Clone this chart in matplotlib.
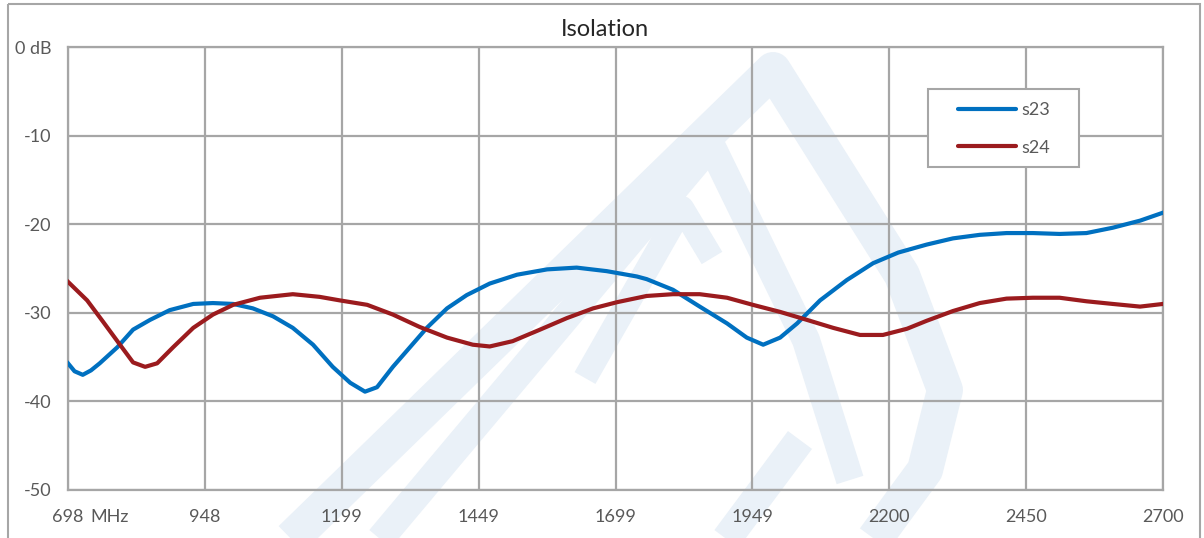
import matplotlib
matplotlib.use('Agg')
import matplotlib.pyplot as plt
from matplotlib.transforms import Affine2D
from matplotlib.lines import Line2D
from matplotlib.patches import Rectangle

# s23 (MHz, dB)
f23 = [698, 710, 725, 740, 756, 788, 817, 848, 884, 927, 963, 1000, 1036, 1073, 1109,
       1146, 1182, 1214, 1241, 1263, 1292, 1323, 1354, 1391, 1427, 1469, 1519, 1574,
       1628, 1683, 1738, 1756, 1804, 1853, 1903, 1939, 1969, 2000, 2031, 2073, 2122,
       2170, 2216, 2268, 2316, 2365, 2414, 2462, 2511, 2560, 2608, 2658, 2700]
s23 = [-35.7, -36.6, -37.0, -36.5, -35.7, -33.9, -31.9, -30.8, -29.7, -29.0, -28.9,
       -29.0, -29.5, -30.4, -31.7, -33.6, -36.1, -37.9, -38.9, -38.4, -36.1, -33.9,
       -31.7, -29.5, -28.0, -26.7, -25.7, -25.1, -24.9, -25.3, -25.9, -26.2, -27.4,
       -29.3, -31.2, -32.8, -33.6, -32.8, -31.2, -28.6, -26.3, -24.4, -23.2, -22.3,
       -21.6, -21.2, -21.0, -21.0, -21.1, -21.0, -20.4, -19.6, -18.7]

# s24
f24 = [698, 733, 762, 793, 817, 839, 861, 890, 927, 963, 1000, 1049, 1109, 1158, 1195,
       1245, 1292, 1341, 1391, 1438, 1469, 1511, 1561, 1610, 1658, 1702, 1756, 1804,
       1853, 1903, 1950, 2000, 2049, 2097, 2146, 2188, 2232, 2268, 2316, 2365, 2414,
       2462, 2511, 2560, 2608, 2658, 2700]
s24 = [-26.5, -28.6, -31.0, -33.6, -35.6, -36.1, -35.7, -33.9, -31.7, -30.2, -29.1,
       -28.3, -27.9, -28.2, -28.6, -29.1, -30.2, -31.6, -32.8, -33.6, -33.8, -33.2,
       -31.9, -30.6, -29.5, -28.8, -28.1, -27.9, -27.9, -28.3, -29.1, -29.9, -30.8,
       -31.7, -32.5, -32.5, -31.8, -30.9, -29.8, -28.9, -28.4, -28.3, -28.3, -28.7,
       -29.0, -29.3, -29.0]

xticks = [698, 948.25, 1198.5, 1448.75, 1699, 1949.25, 2199.5, 2449.75, 2700]
xlabels = ['698', '948', '1199', '1449', '1699', '1949', '2200', '2450', '2700']
yticks = [0, -10, -20, -30, -40, -50]
ylabels = ['0 dB', '-10', '-20', '-30', '-40', '-50']

# watermark strokes, image pixels (x, y from top), width px
wm_strokes = [
    ([(285, 545), (773, 70), (902, 275), (945, 390), (925, 470), (870, 545)], 36),
    ([(375, 545), (711, 145), (806, 340), (850, 480)], 28),
    ([(585, 378), (682, 208), (712, 258)], 24),
    ([(800, 440), (722, 545)], 30),
]

W, H = 1204, 538
grey = '#A6A6A6'
txt = '#595959'
plt.rcParams['font.family'] = ['Lato', 'DejaVu Sans']

fig = plt.figure(figsize=(W / 100, H / 100), dpi=100)
fig.patch.set_facecolor('white')
ax = fig.add_axes([68 / W, 1 - 490 / H, (1163 - 68) / W, (490 - 47) / H])
ax.set_facecolor('none')

pix = Affine2D().scale(1, -1).translate(0, H)
for pts, lw in wm_strokes:
    xs = [p[0] for p in pts]
    ys = [p[1] for p in pts]
    fig.add_artist(Line2D(xs, ys, transform=pix, color='#EAF1F8', lw=lw * 0.72,
                          solid_capstyle='butt', solid_joinstyle='round', zorder=-5))

fig.add_artist(Rectangle((8, 4), 1192, 600, transform=pix, fill=False,
                         edgecolor=grey, lw=1.5, zorder=-4))

ax.plot(f23, s23, color='#0070C0', lw=3, label='s23', solid_joinstyle='round', zorder=3)
ax.plot(f24, s24, color='#9B1B1E', lw=3, label='s24', solid_joinstyle='round', zorder=3)

ax.set_xlim(698, 2700)
ax.set_ylim(-50, 0)
ax.set_xticks(xticks)
ax.set_xticklabels(xlabels)
ax.set_yticks(yticks)
ax.set_yticklabels(ylabels)
ax.grid(True, color=grey, lw=1.6, zorder=0)
ax.set_axisbelow(True)
for s in ax.spines.values():
    s.set_color(grey)
    s.set_linewidth(1.6)
ax.tick_params(axis='both', length=0, labelsize=13, labelcolor=txt)
ax.tick_params(axis='x', pad=14)
ax.tick_params(axis='y', pad=12)
fig.text(90 / W, 1 - 517 / H, 'MHz', fontsize=13, color=txt, va='center')

fig.text(605 / W, 1 - 29 / H, 'Isolation', fontsize=17, color='#262626',
         ha='center', va='center')

# legend: frame drawn separately so the inner padding can match
ax.add_patch(Rectangle((928, 89), 151, 78, transform=pix, facecolor='white',
                       edgecolor=grey, lw=1.5, zorder=4, clip_on=False))
leg = ax.legend(loc='upper left', bbox_to_anchor=(958 / W, 1 - 102 / H),
                bbox_transform=fig.transFigure, borderaxespad=0, borderpad=0,
                frameon=False, fontsize=13, handlelength=3.2, handletextpad=0.3,
                labelspacing=1.2)
leg.set_zorder(5)
for t in leg.get_texts():
    t.set_color(txt)
for l in leg.get_lines():
    l.set_solid_capstyle('round')

fig.savefig('out.png', dpi=100)
